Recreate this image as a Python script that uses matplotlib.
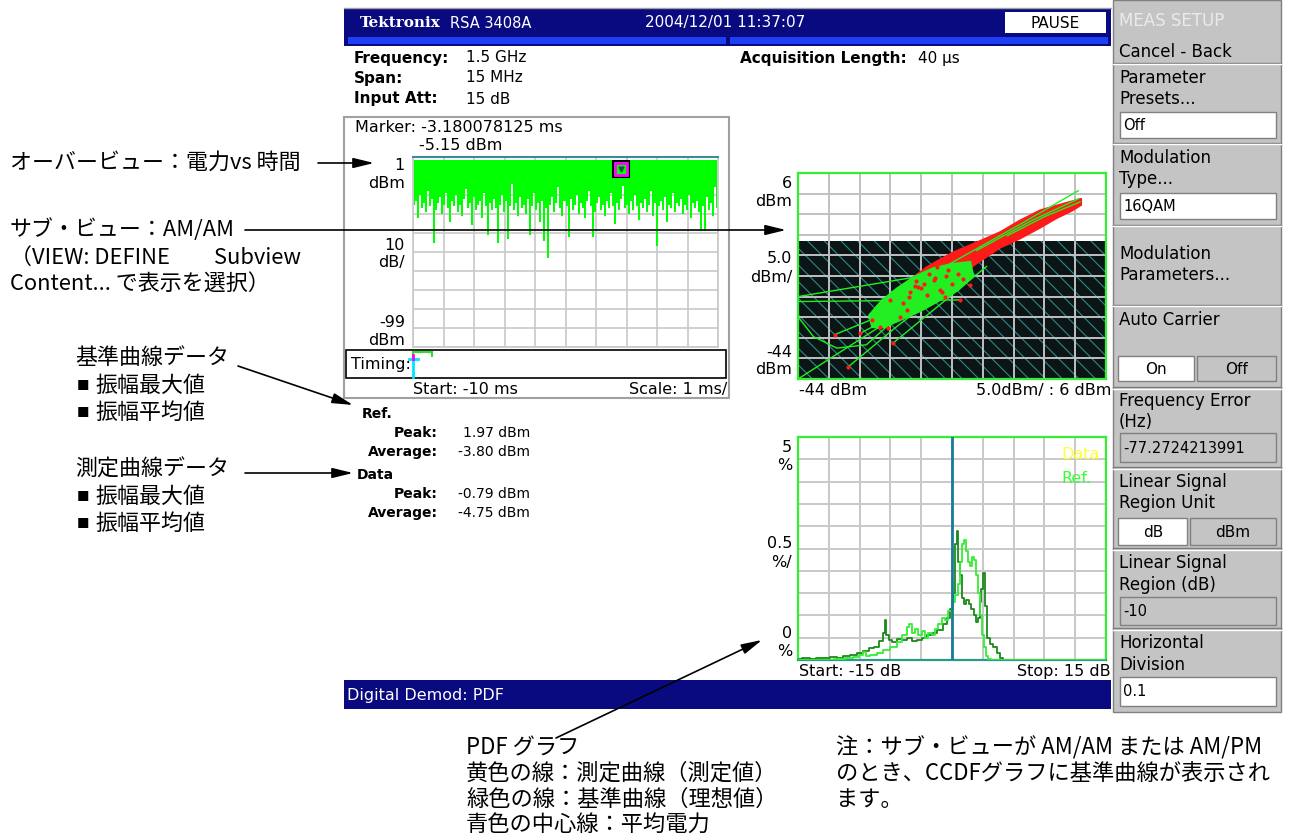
import matplotlib
matplotlib.use('Agg')
import matplotlib.pyplot as plt
from matplotlib.patches import Rectangle, Polygon
import numpy as np

plt.rcParams['font.family'] = ['DejaVu Sans', 'Noto Sans CJK JP']
plt.rcParams['hatch.linewidth'] = 0.8
JP = ['Noto Sans CJK JP', 'DejaVu Sans']

# ---------------- data ----------------
# Overview: power vs time (ms), lower envelope of trace per column (dBm)
ov_peak = -0.79
ov_min = [-24, -22, -31, -19, -26, -23, -28, -17, -25, -21, -44, -27, -23, -20, -29, -24, -18, -26, -33,
          -22, -25, -19, -28, -24, -30, -21, -16, -26, -23, -35, -20, -27, -24, -22, -31, -18, -25, -40,
          -23, -27, -21, -26, -44, -24, -19, -28, -22, -42, -25, -13, -27, -23, -30, -20, -26, -24, -29,
          -21, -40, -25, -18, -27, -23, -33, -22, -43, -26, -52, -24, -20, -28, -23, -15, -26, -30, -22,
          -25, -41, -21, -27, -24, -19, -29, -23, -26, -31, -22, -17, -25, -41, -28, -23, -20, -27, -24,
          -30, -22, -26, -18, -25, -34, -23, -27, -21, -14, -26, -24, -29, -22, -27, -19, -25, -32, -23,
          -26, -21, -28, -24, -17, -30, -23, -46, -25, -22, -27, -20, -33, -24, -26, -18, -28, -23, -25,
          -21, -29, -24, -27, -19, -31, -23, -26, -22, -28, -38, -25, -38, -20, -27, -23, -30, -15, -26]
marker_t, marker_v = -3.18, -5.15

# AM/AM (dBm in vs dBm out)
lin_region_top = -10.5
am_red_upper_x = [2.0, 0.0, -4.7, -8.0, -11.2, -15.0, -18.8, -21.0, -23.1, -25.5, -27.4]
am_red_upper_y = [-0.2, -1.0, -3.0, -5.5, -8.3, -10.8, -13.2, -15.0, -16.8, -19.5, -21.5]
am_red_lower_x = [-27.4, -25.5, -23.1, -21.0, -18.8, -15.0, -11.2, -8.0, -4.7, -2.0, 0.5, 2.0]
am_red_lower_y = [-27.0, -26.0, -24.8, -22.0, -20.0, -16.0, -12.2, -10.0, -7.35, -5.0, -3.2, -1.8]
am_ref_blob_x = [-16.0, -19.0, -22.0, -25.0, -28.0, -30.5, -32.5, -32.0, -30.0, -27.0, -24.0, -21.0, -18.0, -15.5]
am_ref_blob_y = [-15.5, -16.0, -17.0, -19.0, -22.0, -25.0, -28.5, -31.5, -31.5, -29.5, -27.5, -25.0, -22.5, -19.0]
am_ref_lines = [
    ([1.5, -8.0, -23.1], [1.7, -6.5, -19.2]),
    ([-44, -23.1], [-24.0, -18.8]),
    ([-44, -17.7], [-25.2, -24.8]),
    ([-44, -41.5, -37.7, -32.9, -29.6, -26.4], [-28.9, -33.7, -36.5, -35.7, -31.3, -26.4]),
    ([-44, -21.0], [-44, -22.0]),
    ([-35.8, -28.0, -20.95], [-41.0, -31.3, -23.2]),
    ([-38.0, -24.2], [-33.2, -24.8]),
    ([-28.5, -13.4], [-35.2, -16.7]),
    ([-33.9, -19.9], [-32.9, -22.0]),
    ([1.8, -4.0, -10.0], [-1.0, -4.6, -9.2]),
    ([1.6, -6.0, -15.0], [-0.2, -5.5, -12.8]),
]
am_red_dots_x = [-29.1, -32.0, -33.9, -38.0, -35.9, -28.6, -29.4, -30.7, -21.4, -24.5, -20.1, -17.7, -16.1,
                 -26.3, -27.4, -24.0, -22.0, -20.0, -26.0, -23.0, -19.0, -21.0, -25.0, -18.0, -27.0,
                 -22.8, -19.6, -24.8, -21.7, -17.2, -25.8, -23.6, -20.7]
am_red_dots_y = [-24.8, -29.7, -32.8, -33.3, -41.0, -35.3, -31.6, -31.3, -16.8, -21.7, -24.1, -24.8, -21.2,
                 -27.3, -29.0, -22.0, -20.0, -19.0, -24.0, -23.5, -21.0, -22.5, -21.5, -18.5, -25.5,
                 -18.6, -17.6, -20.2, -19.6, -19.7, -22.8, -20.9, -23.0]

# PDF (%) vs dB
pdf_data_x = [-15.0, -14.2, -13.5, -12.9, -12.2, -11.6, -10.9, -10.3, -9.6, -9.0, -8.3, -7.8, -7.35, -6.86,
              -6.64, -6.47, -6.31, -6.05, -5.56, -5.08, -4.59, -4.10, -3.61, -3.12, -2.64, -2.15, -1.66,
              -1.17, -0.68, -0.36, -0.03, 0.20, 0.39, 0.52, 0.65, 0.85, 1.04, 1.27, 1.50, 1.76, 1.99, 2.25,
              2.47, 2.67, 2.80, 2.93, 3.12, 3.32, 3.55, 3.87, 4.20, 4.52, 4.85, 5.17, 15.0]
pdf_data_y = [0.02, 0.04, 0.02, 0.05, 0.04, 0.06, 0.05, 0.10, 0.12, 0.15, 0.20, 0.28, 0.30, 0.42, 0.60,
              0.90, 0.55, 0.45, 0.40, 0.47, 0.45, 0.50, 0.42, 0.45, 0.50, 0.55, 0.60, 0.68, 0.80, 0.95,
              1.15, 1.50, 2.60, 2.90, 2.20, 1.90, 1.40, 1.25, 1.35, 1.25, 1.15, 1.00, 0.85, 0.95, 1.30,
              1.60, 1.95, 1.20, 0.50, 0.35, 0.30, 0.15, 0.05, 0.0, 0.0]
pdf_ref_x = [-15.0, -12.0, -10.9, -9.96, -9.3, -8.8, -8.5, -8.2, -7.7, -7.0, -6.4, -5.7, -5.1, -4.6, -4.26,
             -4.03, -3.77, -3.45, -3.12, -2.8, -2.47, -2.15, -1.82, -1.5, -1.17, -0.85, -0.52, -0.19, 0.13,
             0.46, 0.72, 0.91, 1.10, 1.27, 1.43, 1.63, 1.82, 2.02, 2.21, 2.41, 2.60, 2.80, 3.00, 3.22, 3.45,
             3.64, 4.0, 15.0]
pdf_ref_y = [0.01, 0.01, 0.02, 0.04, 0.07, 0.12, 0.18, 0.10, 0.12, 0.15, 0.22, 0.30, 0.40, 0.55, 0.75, 0.80,
             0.60, 0.70, 0.55, 0.65, 0.50, 0.60, 0.55, 0.70, 0.80, 0.95, 0.90, 1.10, 1.30, 1.45, 1.70, 2.20,
             2.60, 2.70, 2.45, 2.20, 2.10, 2.30, 2.25, 1.90, 1.50, 1.00, 0.55, 0.30, 0.10, 0.02, 0.0, 0.0]
pdf_avg = 0.0

# ---------------- figure ----------------
W, H = 1294, 838
fig = plt.figure(figsize=(W / 100, H / 100), dpi=100)
fig.patch.set_facecolor('white')
bg = fig.add_axes([0, 0, 1, 1])
bg.set_xlim(0, W); bg.set_ylim(H, 0); bg.axis('off')


def ax_px(l, t, r, b, z=1):
    return fig.add_axes([l / W, 1 - b / H, (r - l) / W, (b - t) / H], zorder=z)


def T(x, y, s, size=11.5, ha='left', color='black', weight='normal', family=None, ax=None):
    (ax or bg).text(x, y, s, fontsize=size, ha=ha, va='center', color=color, weight=weight,
                    family=family if family else ['DejaVu Sans', 'Noto Sans CJK JP'])


def rect(x0, y0, x1, y1, fc='none', ec='none', lw=1.0, ax=None, z=1):
    (ax or bg).add_patch(Rectangle((x0, y0), x1 - x0, y1 - y0, fc=fc, ec=ec, lw=lw, zorder=z))


NAVY = '#0a0a80'
PANEL = '#c4c4c4'

# header
bg.plot([344, 1111], [8, 8], color='#a0a0a0', lw=1)
rect(344, 9, 1111, 46, fc=NAVY)
rect(348, 37, 726, 44, fc='#1f3ff5')
rect(730, 37, 1108, 44, fc='#1f3ff5')
T(360, 23, 'Tektronix', size=11, color='white', weight='bold', family=['DejaVu Serif'])
T(450, 23, 'RSA 3408A', size=10.5, color='white')
T(645, 23, '2004/12/01 11:37:07', size=11, color='white')
rect(1005, 12, 1106, 33, fc='white')
T(1055, 23, 'PAUSE', size=11, ha='center')

# info lines
for y, lab, val in [(58, 'Frequency:', '1.5 GHz'), (78, 'Span:', '15 MHz'), (99, 'Input Att:', '15 dB')]:
    T(354, y, lab, size=11, weight='bold')
    T(466, y, val, size=11)
T(740, 58, 'Acquisition Length:', size=11, weight='bold')
T(918, 58, '40 μs', size=11)

# overview frame
rect(344, 117, 729, 398, ec='#a0a0a0', lw=1.5)
T(355, 128, 'Marker: -3.180078125 ms', size=11.5)
T(419, 146, '-5.15 dBm', size=11.5)
for y, s in [(165, '1'), (183, 'dBm'), (245, '10'), (262, 'dB/'), (322, '-99'), (340, 'dBm')]:
    T(405, y, s, size=11.5, ha='right')
rect(346, 350, 726, 378, ec='black', lw=1.2)
T(351, 364, 'Timing:', size=11.5)
bg.plot([413, 432], [352, 352], color='#33dd33', lw=1.5)
bg.plot([413, 413], [352, 356], color='#33dd33', lw=1.5)
bg.plot([432, 432], [352, 356], color='#33dd33', lw=1.5)
bg.plot([413, 413], [358, 377], color='#00e5ff', lw=2)
bg.plot([409, 418], [359, 359], color='#00e5ff', lw=2)
bg.plot([413, 413], [355, 359], color='#ff00ff', lw=2)
T(413, 389, 'Start: -10 ms', size=11.5)
T(727, 389, 'Scale: 1 ms/', size=11.5, ha='right')

# overview axes
ax1 = ax_px(413, 157, 718, 347)
ax1.set_xlim(-10, 0); ax1.set_ylim(-99, 1)
ax1.set_xticks(np.arange(-10, 1, 1)); ax1.set_yticks(np.arange(-99, 2, 10))
ax1.tick_params(length=0, labelbottom=False, labelleft=False)
ax1.grid(True, color='#c8c8c8', lw=1.2)
ax1.set_axisbelow(True)
for sp in ax1.spines.values():
    sp.set_color('#c8c8c8'); sp.set_linewidth(1.2)
ax1.spines['top'].set_color('#3a8a9a'); ax1.spines['top'].set_linewidth(1.5)
t = np.linspace(-10, 0, len(ov_min) + 1)
t = (t[:-1] + t[1:]) / 2
ax1.fill_between(t, ov_min, ov_peak, step='mid', color='#00ff00', lw=0, zorder=2)
ax1.plot(marker_t, marker_v, marker='s', ms=12, mfc='none', mec='black', mew=1.5, zorder=4)
ax1.plot(marker_t, marker_v, marker='s', ms=9, mfc='none', mec='#ff00ff', mew=2, zorder=4)
ax1.plot(marker_t, marker_v, marker='v', ms=3.5, color='#205050', zorder=5)

# AM/AM labels
for y, s in [(183, '6'), (201, 'dBm'), (258, '5.0'), (277, 'dBm/'), (352, '-44'), (369, 'dBm')]:
    T(792, y, s, size=11.5, ha='right')
T(799, 390, '-44 dBm', size=11.5)
T(1111, 390, '5.0dBm/ : 6 dBm', size=11.5, ha='right')

ax2 = ax_px(798, 173, 1106, 379)
ax2.set_xlim(-44, 6); ax2.set_ylim(-44, 6)
ax2.set_xticks(np.arange(-44, 7, 5)); ax2.set_yticks(np.arange(-44, 7, 5))
ax2.tick_params(length=0, labelbottom=False, labelleft=False)
ax2.grid(True, color='#c0c0c0', lw=1.4)
ax2.set_axisbelow('line')
ax2.add_patch(Rectangle((-44, -44), 50, lin_region_top + 44, fc='#0b1515', ec='#2e8a8a',
                        hatch='\\\\', lw=0, zorder=1))
ax2.add_patch(Polygon(list(zip(am_red_upper_x + am_red_lower_x, am_red_upper_y + am_red_lower_y)),
                      closed=True, fc='#ff1a1a', ec='#ff1a1a', lw=1, zorder=3))
ax2.add_patch(Polygon(list(zip(am_ref_blob_x, am_ref_blob_y)), closed=True, fc='#22ee22',
                      ec='#22ee22', lw=1, zorder=4))
for lx, ly in am_ref_lines:
    ax2.plot(lx, ly, color='#22ee22', lw=1.0, zorder=5)
ax2.scatter(am_red_dots_x, am_red_dots_y, s=9, marker='o', color='#ff1a1a', zorder=6, lw=0)
for sp in ax2.spines.values():
    sp.set_color('#33ee33'); sp.set_linewidth(1.6)

# PDF labels
for y, s in [(447, '5'), (465, '%'), (543, '0.5'), (562, '%/'), (633, '0'), (651, '%')]:
    T(792, y, s, size=11.5, ha='right')
T(799, 671, 'Start: -15 dB', size=11.5)
T(1111, 671, 'Stop: 15 dB', size=11.5, ha='right')

ax3 = ax_px(798, 437, 1106, 660)
ax3.set_xlim(-15, 15); ax3.set_ylim(0, 5)
ax3.set_xticks(np.arange(-15, 16, 3)); ax3.set_yticks(np.arange(0, 5.01, 0.5))
ax3.tick_params(length=0, labelbottom=False, labelleft=False)
ax3.grid(True, color='#c8c8c8', lw=1.4)
ax3.set_axisbelow(True)
ax3.plot(pdf_data_x, pdf_data_y, color='#1a8a1a', lw=1.3, drawstyle='steps-mid', zorder=3)
ax3.plot(pdf_ref_x, pdf_ref_y, color='#33ee33', lw=1.3, drawstyle='steps-mid', zorder=3)
ax3.axvline(pdf_avg, color='#1a7a9a', lw=2, zorder=4)
for sp in ax3.spines.values():
    sp.set_color('#33ee33'); sp.set_linewidth(1.6)
ax3.spines['bottom'].set_color('#2a9a8a')

# Ref / Data stats
T(362, 414, 'Ref.', size=10, weight='bold')
T(438, 433, 'Peak:', size=10, weight='bold', ha='right')
T(530, 433, '1.97 dBm', size=10, ha='right')
T(438, 452, 'Average:', size=10, weight='bold', ha='right')
T(530, 452, '-3.80 dBm', size=10, ha='right')
T(357, 475, 'Data', size=10, weight='bold')
T(438, 494, 'Peak:', size=10, weight='bold', ha='right')
T(530, 494, '-0.79 dBm', size=10, ha='right')
T(438, 513, 'Average:', size=10, weight='bold', ha='right')
T(530, 513, '-4.75 dBm', size=10, ha='right')

# status bar
rect(344, 680, 1111, 709, fc=NAVY)
T(347, 695, 'Digital Demod: PDF', size=11.5, color='white')

# right panel
rect(1113, 0, 1281, 712, fc=PANEL, ec='#808080', lw=1)
for y in [63, 143, 225, 305, 387, 467, 548, 628]:
    bg.plot([1113, 1281], [y, y], color='#7a7a7a', lw=1)
    bg.plot([1113, 1281], [y + 1.5, y + 1.5], color='white', lw=1)


def inset(x0, y0, x1, y1, fc):
    rect(x0, y0, x1, y1, fc=fc, ec='#808080', lw=1)


inset(1120, 112, 1276, 138, 'white')
inset(1120, 193, 1276, 219, 'white')
inset(1118, 356, 1194, 381, 'white')
inset(1197, 356, 1276, 381, PANEL)
inset(1120, 433, 1276, 462, PANEL)
inset(1118, 518, 1187, 545, 'white')
inset(1190, 518, 1276, 545, PANEL)
inset(1120, 597, 1276, 625, PANEL)
inset(1120, 677, 1276, 706, 'white')

PS = 12
T(1119, 21, 'MEAS SETUP', size=PS, color='#ebebeb')
for y, s in [(52, 'Cancel - Back'), (78, 'Parameter'), (99, 'Presets...'), (158, 'Modulation'),
             (179, 'Type...'), (254, 'Modulation'), (275, 'Parameters...'), (320, 'Auto Carrier'),
             (401, 'Frequency Error'), (422, '(Hz)'), (482, 'Linear Signal'), (503, 'Region Unit'),
             (563, 'Linear Signal'), (585, 'Region (dB)'), (643, 'Horizontal'), (665, 'Division')]:
    T(1119, y, s, size=PS)
for y, s in [(125, 'Off'), (206, '16QAM'), (448, '-77.2724213991'), (611, '-10'), (691, '0.1')]:
    T(1123, y, s, size=10.5)
T(1156, 369, 'On', size=11, ha='center')
T(1236, 369, 'Off', size=11, ha='center')
T(1153, 532, 'dB', size=11, ha='center')
T(1233, 532, 'dBm', size=11, ha='center')

# overlay: annotations
ov = fig.add_axes([0, 0, 1, 1], zorder=10)
ov.set_xlim(0, W); ov.set_ylim(H, 0); ov.axis('off'); ov.patch.set_alpha(0)
T(1061, 454, 'Data', size=11.5, color='#ffff33', ax=ov)
T(1061, 478, 'Ref.', size=11.5, color='#33ff33', ax=ov)


def arrow(x0, y0, x1, y1):
    ov.annotate('', xy=(x1, y1), xytext=(x0, y0),
                arrowprops=dict(arrowstyle='-|>,head_length=0.9,head_width=0.22', color='black',
                                lw=1.2, shrinkA=0, shrinkB=0, mutation_scale=14))


arrow(318, 163, 374, 163)
arrow(245, 230, 786, 230)
arrow(238, 366, 353, 405)
arrow(245, 473, 353, 473)
arrow(556, 738, 762, 640)

AS = 15.8
T(10, 163, 'オーバービュー：電力vs 時間', size=AS, family=JP, ax=ov)
T(10, 230, 'サブ・ビュー：AM/AM', size=AS, family=JP, ax=ov)
T(10, 258, '（VIEW: DEFINE　　Subview', size=AS, family=JP, ax=ov)
T(10, 285, 'Content... で表示を選択）', size=AS, family=JP, ax=ov)
T(75, 358, '基準曲線データ', size=AS, family=JP, ax=ov)
T(75, 470, '測定曲線データ', size=AS, family=JP, ax=ov)
for y, s in [(386, '振幅最大値'), (413, '振幅平均値'), (497, '振幅最大値'), (524, '振幅平均値')]:
    T(77, y, '■', size=9, family=JP, ax=ov)
    T(95, y, s, size=AS, family=JP, ax=ov)

BS = 16
for y, s in [(748, 'PDF グラフ'), (773, '黄色の線：測定曲線（測定値）'), (799, '緑色の線：基準曲線（理想値）'),
             (824, '青色の中心線：平均電力')]:
    T(466, y, s, size=BS, family=JP, ax=ov)
for y, s in [(748, '注：サブ・ビューが AM/AM または AM/PM'), (773, 'のとき、CCDFグラフに基準曲線が表示され'),
             (799, 'ます。')]:
    T(836, y, s, size=BS, family=JP, ax=ov)

fig.savefig('out.png', dpi=100)
